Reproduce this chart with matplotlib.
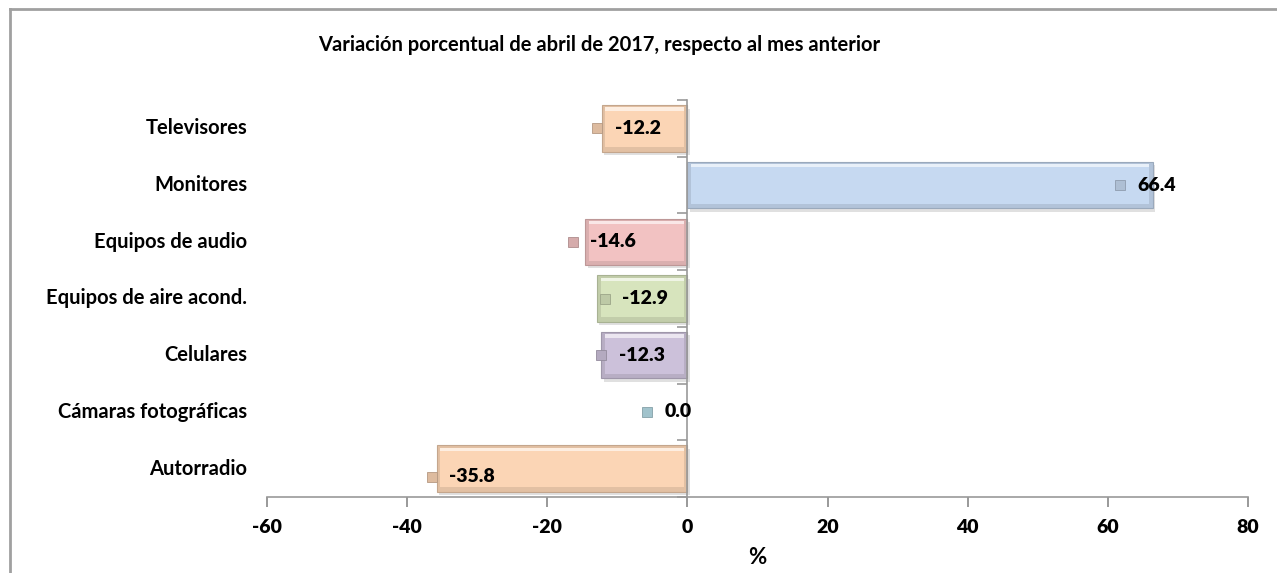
import matplotlib.pyplot as plt
from matplotlib.patches import Rectangle
from matplotlib.lines import Line2D
import numpy as np

categorias = ['Televisores', 'Monitores', 'Equipos de audio', 'Equipos de aire acond.',
              'Celulares', 'Cámaras fotográficas', 'Autorradio']
valores = [-12.2, 66.4, -14.6, -12.9, -12.3, 0.0, -35.8]
colores = ['#FBD5B5', '#C6D9F1', '#F2C2C2', '#D7E4BD', '#CCC1DA', '#B7DEE8', '#FBD5B5']
xticks = [-60, -40, -20, 0, 20, 40, 60, 80]

# where Excel left each data label (offset of the little key, in data units)
label_dx = [-0.7, -4.7, -1.8, 1.1, 0.0, -5.8, -0.7]
label_dy = [0, 0, 0, 0, 0, 0, 0.14]

plt.rcParams['font.family'] = ['Lato', 'DejaVu Sans']
plt.rcParams['font.weight'] = 'bold'

fig = plt.figure(figsize=(12.77, 5.73), dpi=100)
ax = fig.add_axes([267 / 1277, 1 - 497 / 573, 981 / 1277, 397 / 573])

# frame around the chart area (only top and left show)
fig.add_artist(Line2D([10 / 1277, 10 / 1277], [0, 1 - 9 / 573], transform=fig.transFigure,
                      color='#a0a0a0', lw=2))
fig.add_artist(Line2D([10 / 1277, 1], [1 - 9 / 573, 1 - 9 / 573], transform=fig.transFigure,
                      color='#a0a0a0', lw=2))


def darker(c, f):
    r, g, b = [int(c[i:i + 2], 16) / 255 for i in (1, 3, 5)]
    return (r * f, g * f, b * f)


def lighter(c, f):
    r, g, b = [int(c[i:i + 2], 16) / 255 for i in (1, 3, 5)]
    return (r + (1 - r) * f, g + (1 - g) * f, b + (1 - b) * f)


y = np.arange(len(categorias))
h = 0.82
for yi, v, c in zip(y, valores, colores):
    if v == 0:
        continue
    x0 = min(v, 0)
    w = abs(v)
    # shadow
    ax.add_patch(Rectangle((x0 + 0.35, yi - h / 2 + 0.06), w, h, color='#000000', alpha=0.12,
                           lw=0, zorder=1))
    ax.barh(yi, v, height=h, color=darker(c, 0.9), edgecolor=darker(c, 0.78), lw=0.8, zorder=2)
    # bevel: lighter inner face
    ax.barh(yi, v - np.sign(v) * 1.0, left=np.sign(v) * 0.5, height=h - 0.16,
            color=c, lw=0, zorder=3)
    ax.add_patch(Rectangle((x0 + 0.5, yi - h / 2 + 0.04), w - 1.0, 0.06,
                           color=lighter(c, 0.6), lw=0, zorder=3))

for yi, v, c, dx, dy in zip(y, valores, colores, label_dx, label_dy):
    mx = v + dx
    ax.plot(mx, yi + dy, marker='s', ms=7, color=darker(c, 0.88), mec=darker(c, 0.72),
            mew=0.6, zorder=5)
    ax.text(mx + 2.5, yi + dy, f'{v:.1f}', ha='left', va='center', fontsize=14,
            fontweight='heavy', zorder=6)

ax.set_xlim(-60, 80)
ax.set_ylim(len(categorias) - 0.5, -0.5)
ax.set_xticks(xticks)
ax.set_xticklabels([str(t) for t in xticks], fontsize=14, fontweight='heavy')
ax.tick_params(axis='x', direction='out', length=7, width=1.2, color='#888888', pad=9)

ax.spines['left'].set_position(('data', 0))
for s in ['top', 'right']:
    ax.spines[s].set_visible(False)
ax.spines['left'].set_color('#999999')
ax.spines['bottom'].set_color('#999999')
ax.spines['left'].set_linewidth(1.2)
ax.spines['bottom'].set_linewidth(1.2)

ax.set_yticks(y)
ax.set_yticklabels([])
ax.tick_params(axis='y', which='major', length=0)
ax.set_yticks(np.arange(len(categorias) + 1) - 0.5, minor=True)
ax.tick_params(axis='y', which='minor', direction='out', length=7, width=1.2, color='#999999')

for yi, cat in zip(y, categorias):
    ax.text(-0.02, yi, cat, transform=ax.get_yaxis_transform(), ha='right', va='center',
            fontsize=14.5, fontweight='bold')

ax.set_xlabel('%', fontsize=16, fontweight='bold', labelpad=8)
fig.text(318 / 1277, 1 - 45 / 573, 'Variación porcentual de abril de 2017, respecto al mes anterior',
         ha='left', va='center', fontsize=14.5, fontweight='bold')

fig.savefig('out.png', dpi=100)
